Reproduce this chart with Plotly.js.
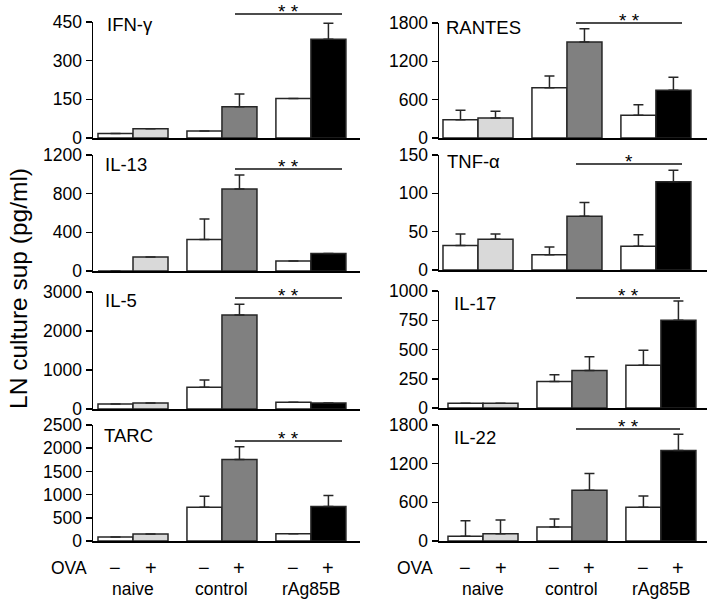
<!DOCTYPE html>
<html>
<head>
<meta charset="utf-8">
<script src="https://cdn.plot.ly/plotly-3.0.1.min.js"></script>
<style>html,body{margin:0;padding:0;background:#fff;}#chart{width:713px;height:611px;}</style>
</head>
<body>
<div id="chart"></div>
<script>
// ---------- data ----------
const groups = ["naive", "control", "rAg85B"];
const ovaLabels = ["\u2212", "+"];
const panelNames = ["IFN-\u03b3", "RANTES", "IL-13", "TNF-\u03b1", "IL-5", "IL-17", "TARC", "IL-22"];
const yMax = [450, 1800, 1200, 150, 3000, 1000, 2500, 1800];
const yStep = [150, 600, 400, 50, 1000, 250, 500, 600];
const stars = ["**", "**", "**", "*", "**", "**", "**", "**"];

// OVA − (white) and OVA + (shaded) means, with upward SEM
const ifngMinus = [17, 27, 153],     ifngMinusErr = [null, null, null];
const ifngPlus = [36, 121, 383],     ifngPlusErr = [null, 50, 62];
const rantesMinus = [287, 788, 355], rantesMinusErr = [146, 182, 167];
const rantesPlus = [313, 1502, 746], rantesPlusErr = [104, 209, 203];
const il13Minus = [0, 325, 104],     il13MinusErr = [null, 214, null];
const il13Plus = [145, 847, 180],    il13PlusErr = [null, 145, null];
const tnfMinus = [32, 20, 31],       tnfMinusErr = [15, 10, 15];
const tnfPlus = [40, 70, 115],       tnfPlusErr = [7, 18, 15];
const il5Minus = [128, 556, 171],    il5MinusErr = [null, 188, null];
const il5Plus = [154, 2410, 154],    il5PlusErr = [null, 274, null];
const il17Minus = [40, 227, 366],    il17MinusErr = [null, 57, 128];
const il17Plus = [40, 321, 750],     il17PlusErr = [null, 117, 165];
const tarcMinus = [86, 728, 158],    tarcMinusErr = [null, 237, null];
const tarcPlus = [151, 1758, 742],   tarcPlusErr = [null, 274, 238];
const il22Minus = [73, 218, 524],    il22MinusErr = [243, 124, 176];
const il22Plus = [114, 788, 1406],   il22PlusErr = [213, 260, 249];

const minusVals = [ifngMinus, rantesMinus, il13Minus, tnfMinus, il5Minus, il17Minus, tarcMinus, il22Minus];
const minusErrs = [ifngMinusErr, rantesMinusErr, il13MinusErr, tnfMinusErr, il5MinusErr, il17MinusErr, tarcMinusErr, il22MinusErr];
const plusVals = [ifngPlus, rantesPlus, il13Plus, tnfPlus, il5Plus, il17Plus, tarcPlus, il22Plus];
const plusErrs = [ifngPlusErr, rantesPlusErr, il13PlusErr, tnfPlusErr, il5PlusErr, il17PlusErr, tarcPlusErr, il22PlusErr];

// ---------- layout geometry (pixels) ----------
const W = 713, H = 611;
const FONT = "Liberation Sans, Arial, sans-serif";
const px = v => v / W;
const py = v => 1 - v / H;
const colX = [[93, 360], [439, 707]];
const rowY = [[[22, 138], [23, 138]], [[155, 271], [155, 270]], [[292, 409], [291, 408]], [[425, 541], [425, 541]]];
const unit = 88.96;                 // px per group
const firstCenter = [133, 478, 133, 478, 133, 483, 133, 483];
const labelPos = [[105, 25], [444, 27], [103, 165], [445, 162], [103, 300], [452, 303], [102, 435], [452, 437]];
const sigLine = [[235, 342, 14], [576, 682, 23], [235, 342, 169], [576, 682, 164], [235, 342, 298], [576, 680, 298], [235, 342, 441], [576, 680, 429]];
const plusColors = ["#d9d9d9", "#808080", "#000000"];
const outline = "#262626";

const data = [];
const layout = {
  width: W, height: H,
  margin: {l: 0, r: 0, t: 0, b: 0},
  paper_bgcolor: "#fff", plot_bgcolor: "rgba(0,0,0,0)",
  barmode: "group", bargap: 0.213, bargroupgap: 0,
  showlegend: false,
  font: {family: FONT, color: "#000", size: 17},
  annotations: [], shapes: []
};

for (let i = 0; i < 8; i++) {
  const r = Math.floor(i / 2), c = i % 2;
  const sfx = i === 0 ? "" : String(i + 1);
  const xa = "x" + sfx, ya = "y" + sfx;
  const errStyle = {type: "data", symmetric: false, color: outline, thickness: 1.5, width: 5};
  data.push({
    type: "bar", x: groups, y: minusVals[i], xaxis: xa, yaxis: ya,
    marker: {color: "#ffffff", line: {color: outline, width: 1.5}},
    error_y: Object.assign({array: minusErrs[i], arrayminus: [0, 0, 0]}, errStyle),
    hoverinfo: "skip"
  });
  data.push({
    type: "bar", x: groups, y: plusVals[i], xaxis: xa, yaxis: ya,
    marker: {color: plusColors, line: {color: outline, width: 1.5}},
    error_y: Object.assign({array: plusErrs[i], arrayminus: [0, 0, 0]}, errStyle),
    hoverinfo: "skip"
  });
  const x0 = colX[c][0], x1 = colX[c][1];
  const start = -(firstCenter[i] - x0) / unit;
  const end = start + (x1 - x0) / unit;
  const [yt, yb] = rowY[r][c];
  layout["xaxis" + sfx] = {
    domain: [px(x0), px(x1)], anchor: ya, range: [start, end],
    showline: true, linecolor: "#000", linewidth: 1.5, ticks: "", showticklabels: false,
    showgrid: false, zeroline: false, fixedrange: true
  };
  layout["yaxis" + sfx] = {
    domain: [py(yb), py(yt)], anchor: xa, range: [0, yMax[i]], dtick: yStep[i], tick0: 0,
    showline: true, linecolor: "#000", linewidth: 1.5, ticks: "outside", ticklen: 6, tickwidth: 1.5, tickcolor: "#000",
    tickfont: {family: FONT, size: 17.5, color: "#000"}, showgrid: false, zeroline: false, fixedrange: true
  };
  // panel label
  layout.annotations.push({
    xref: "paper", yref: "paper", x: px(labelPos[i][0]), y: py(labelPos[i][1]),
    xanchor: "left", yanchor: "middle", showarrow: false, text: panelNames[i],
    font: {family: FONT, size: 18.5, color: "#000"}
  });
  // significance bar
  const [lx0, lx1, ly] = sigLine[i];
  layout.shapes.push({type: "line", xref: "paper", yref: "paper", x0: px(lx0), x1: px(lx1), y0: py(ly), y1: py(ly),
    line: {color: "#111", width: 1.3}});
  layout.annotations.push({
    xref: "paper", yref: "paper", x: px((lx0 + lx1) / 2), y: py(ly - 15), xanchor: "center", yanchor: "top",
    showarrow: false, text: stars[i].split("").join(" "), font: {family: FONT, size: 19, color: "#000"}
  });
  // bottom labels
  if (r === 3) {
    layout.annotations.push({xref: "paper", yref: "paper", x: px(x0 - 4), y: py(568), xanchor: "right", yanchor: "middle",
      showarrow: false, text: "OVA", font: {family: FONT, size: 17.5, color: "#000"}});
    groups.forEach((g, k) => {
      ovaLabels.forEach((s, j) => {
        layout.annotations.push({xref: xa, yref: "paper", x: k + (j === 0 ? -0.197 : 0.197), y: py(568),
          xanchor: "center", yanchor: "middle", showarrow: false, text: s,
          font: {family: FONT, size: 20, color: "#000"}});
      });
      layout.annotations.push({xref: xa, yref: "paper", x: k, y: py(589), xanchor: "center", yanchor: "middle",
        showarrow: false, text: g, font: {family: FONT, size: 17.5, color: "#000"}});
    });
  }
}
// shared y title
layout.annotations.push({xref: "paper", yref: "paper", x: px(18), y: py(289), xanchor: "center", yanchor: "middle",
  showarrow: false, textangle: -90, text: "LN culture sup (pg/ml)", font: {family: FONT, size: 24.5, color: "#000"}});

Plotly.newPlot("chart", data, layout, {staticPlot: true, displayModeBar: false});
</script>
</body>
</html>
